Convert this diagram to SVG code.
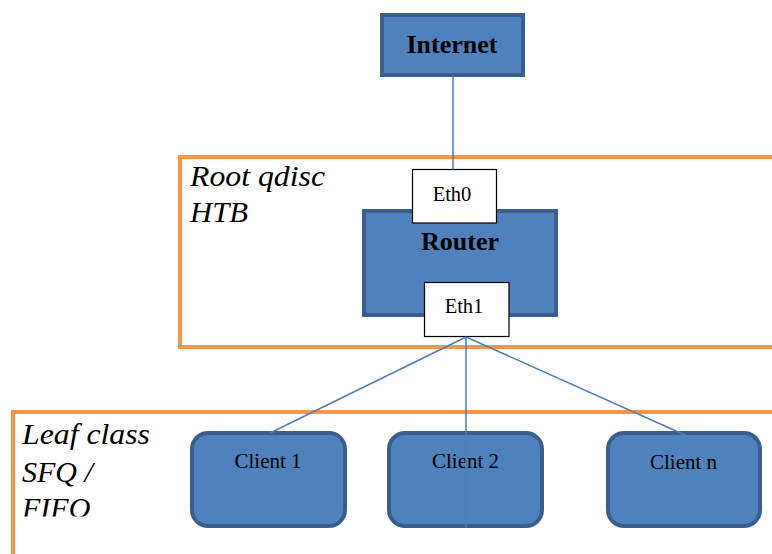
<svg xmlns="http://www.w3.org/2000/svg" width="772" height="554" viewBox="0 0 772 554">
<style>
.zone{fill:none;stroke:#f79646;stroke-width:4}
.box{fill:#4f81bd;stroke:#3a5f8c;stroke-width:4}
.port{fill:#ffffff;stroke:#000000;stroke-width:1.2}
.conn{stroke:#4a7ebb;stroke-width:1.5;fill:none}
.lbl{font-family:"Liberation Serif",serif;font-style:italic;font-size:30px;fill:#000}
.t{font-family:"Liberation Serif",serif;font-size:21px;fill:#000;text-anchor:middle}
.e{font-family:"Liberation Serif",serif;font-size:20.5px;fill:#000;text-anchor:middle}
.b{font-family:"Liberation Serif",serif;font-size:26px;font-weight:bold;fill:#000;text-anchor:middle}
</style>
<defs>
<clipPath id="leafclip"><rect x="0" y="0" width="772" height="516.5"/></clipPath>
</defs>
<rect width="772" height="554" fill="#ffffff"/>
<g id="root-qdisc">
<rect class="zone" x="180" y="157" width="600" height="190"/>
<text class="lbl" x="190" y="186" textLength="135" lengthAdjust="spacingAndGlyphs">Root qdisc</text>
<text class="lbl" x="190" y="221.5" textLength="58" lengthAdjust="spacingAndGlyphs">HTB</text>
</g>
<g id="leaf-class">
<rect class="zone" x="13" y="412" width="770" height="160"/>
<g clip-path="url(#leafclip)">
<text class="lbl" x="22" y="444" textLength="128" lengthAdjust="spacingAndGlyphs">Leaf class</text>
<text class="lbl" x="22" y="481.5">SFQ /</text>
<text class="lbl" x="22" y="517.5">FIFO</text>
</g>
</g>
<g id="internet">
<rect class="box" x="382" y="15" width="141" height="60"/>
<text class="b" x="452" y="53">Internet</text>
</g>
<g id="router">
<rect class="box" x="364" y="211" width="192" height="104"/>
<text class="b" x="460" y="250">Router</text>
</g>
<g id="eth0">
<rect class="port" x="412.5" y="169.5" width="84" height="53.5"/>
<text class="e" x="452" y="201">Eth0</text>
</g>
<g id="eth1">
<rect class="port" x="424.5" y="282.5" width="84.5" height="54"/>
<text class="e" x="464" y="313">Eth1</text>
</g>
<g id="client1">
<rect class="box" x="192" y="433" width="153" height="93" rx="16"/>
<text class="t" x="268" y="468">Client 1</text>
</g>
<g id="client2">
<rect class="box" x="389" y="433" width="153" height="93" rx="16"/>
<text class="t" x="465.5" y="468">Client 2</text>
</g>
<g id="clientn">
<rect class="box" x="608" y="433" width="152" height="93" rx="16"/>
<text class="t" x="683.5" y="469">Client n</text>
</g>
<g id="connectors">
<line class="conn" x1="453" y1="77" x2="453" y2="169.5"/>
<line class="conn" x1="466" y1="337" x2="270" y2="433"/>
<line class="conn" x1="466" y1="337" x2="466" y2="528"/>
<line class="conn" x1="466" y1="337" x2="685" y2="435"/>
</g>
</svg>
